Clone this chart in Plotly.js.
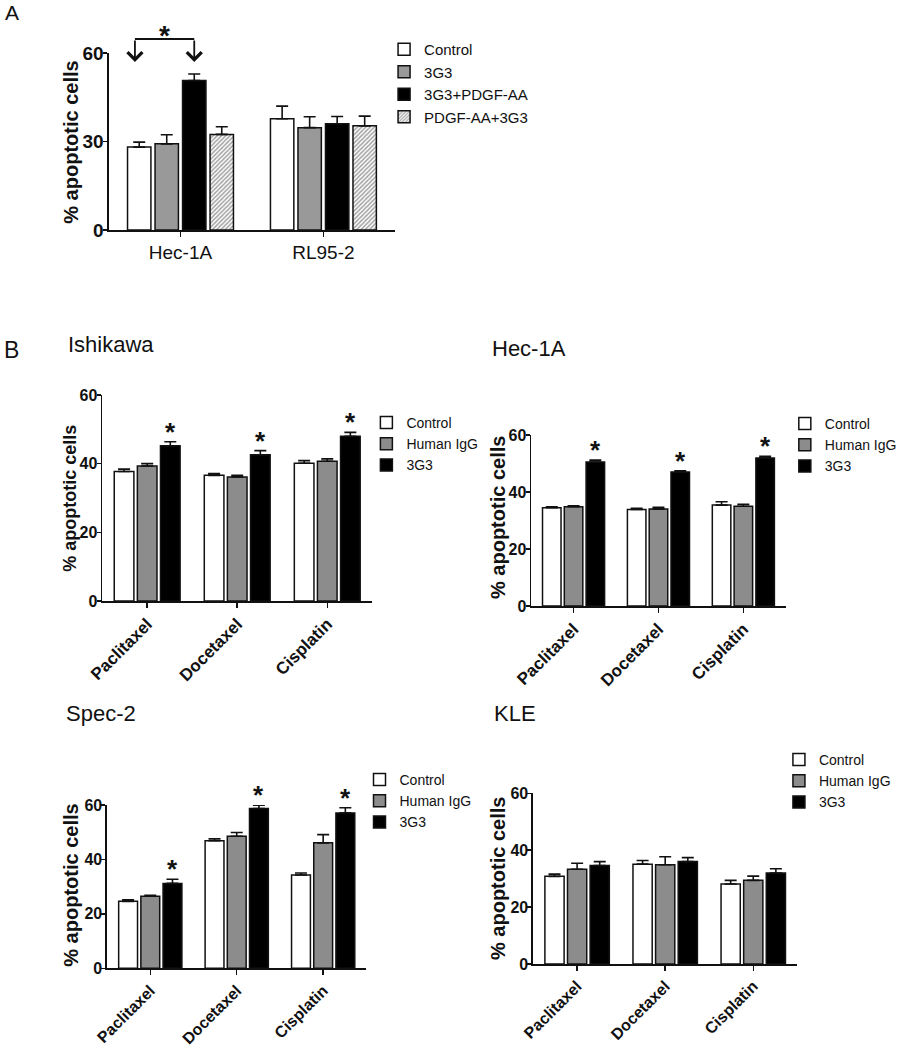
<!DOCTYPE html>
<html><head><meta charset="utf-8">
<script src="https://cdn.plot.ly/plotly-3.0.1.min.js"></script>
<style>html,body{margin:0;padding:0;background:#fff}#chart{width:902px;height:1050px}</style>
</head><body><div id="chart"></div>
<script>
// ---------- Panel A data ----------
const cellLinesA = ['Hec-1A', 'RL95-2'];
const seriesA = ['Control', '3G3', '3G3+PDGF-AA', 'PDGF-AA+3G3'];
const aControl = [28.1, 37.7];
const aControlErr = [1.7, 4.3];
const a3G3 = [29.2, 34.7];
const a3G3Err = [3.1, 3.7];
const a3G3Pdgf = [50.7, 36.0];
const a3G3PdgfErr = [2.2, 2.5];
const aPdgf3G3 = [32.4, 35.3];
const aPdgf3G3Err = [2.6, 3.3];
const aTicks = [0, 30, 60];

// ---------- Panel B data ----------
const drugs = ['Paclitaxel', 'Docetaxel', 'Cisplatin'];
const seriesB = ['Control', 'Human IgG', '3G3'];
const bTicks = [0, 20, 40, 60];

const ishikawaControl = [37.7, 36.6, 40.1];
const ishikawaControlErr = [0.7, 0.5, 0.8];
const ishikawaIgG = [39.3, 36.1, 40.7];
const ishikawaIgGErr = [0.7, 0.5, 0.7];
const ishikawa3G3 = [45.2, 42.6, 48.0];
const ishikawa3G3Err = [1.2, 1.2, 1.1];

const hec1aControl = [34.5, 33.9, 35.4];
const hec1aControlErr = [0.3, 0.4, 1.2];
const hec1aIgG = [34.8, 34.0, 35.0];
const hec1aIgGErr = [0.4, 0.6, 0.7];
const hec1a3G3 = [50.5, 47.0, 51.9];
const hec1a3G3Err = [0.7, 0.4, 0.6];

const spec2Control = [24.6, 46.9, 34.3];
const spec2ControlErr = [0.6, 0.7, 0.7];
const spec2IgG = [26.5, 48.5, 46.1];
const spec2IgGErr = [0.3, 1.4, 3.0];
const spec23G3 = [31.2, 58.7, 57.1];
const spec23G3Err = [1.5, 1.2, 1.9];

const kleControl = [30.8, 35.1, 28.1];
const kleControlErr = [0.8, 1.3, 1.3];
const kleIgG = [33.3, 34.9, 29.4];
const kleIgGErr = [2.1, 2.8, 1.5];
const kle3G3 = [34.6, 36.0, 32.0];
const kle3G3Err = [1.4, 1.4, 1.5];

// ---------- styling / layout helpers ----------
const W = 902, H = 1050;
const fx = p => p / W, fy = p => 1 - p / H;
const FONT = 'Liberation Sans, Arial, Helvetica, sans-serif';
const INK = '#111111';
const GRAY = '#8c8c8c';
const BARGAP = 0.23;

const traces = [];
const annotations = [];
const shapes = [];
const layout = {
  width: W, height: H,
  margin: {l: 0, r: 0, t: 0, b: 0},
  paper_bgcolor: '#ffffff', plot_bgcolor: 'rgba(0,0,0,0)',
  barmode: 'group', bargap: BARGAP, bargroupgap: 0.15,
  font: {family: FONT, color: INK},
  annotations: annotations, shapes: shapes
};

function bar(name, x, y, err, fill, xa, ya, legendId, pattern) {
  const t = {
    type: 'bar', name: name, x: x, y: y,
    xaxis: xa, yaxis: ya, legend: legendId, showlegend: true,
    marker: {color: fill, line: {color: INK, width: 1.5}},
    error_y: {type: 'data', symmetric: false, array: err, arrayminus: err.map(() => 0),
              color: INK, thickness: 1.6, width: 6},
    hoverinfo: 'skip'
  };
  if (pattern) t.marker.pattern = pattern;
  return t;
}

function axisPair(n, xpx, ypx, ticks, xfont, yfont, angle) {
  const xs = n === 1 ? '' : String(n);
  layout['xaxis' + xs] = {
    domain: [fx(xpx[0]), fx(xpx[1])], anchor: 'y' + xs, type: 'category',
    range: [-0.5, (n === 1 ? cellLinesA.length : drugs.length) - 0.5],
    showline: true, linecolor: INK, linewidth: 1.6, mirror: false,
    ticks: 'outside', ticklen: 5, tickwidth: 1.5, tickcolor: INK,
    tickangle: angle, tickfont: xfont, showgrid: false, zeroline: false, fixedrange: true
  };
  layout['yaxis' + xs] = {
    domain: [fy(ypx[1]), fy(ypx[0])], anchor: 'x' + xs, range: [0, 60],
    tickvals: ticks, ticktext: ticks.map(String),
    showline: true, linecolor: INK, linewidth: 1.6,
    ticks: 'outside', ticklen: 4, tickwidth: 1.5, tickcolor: INK,
    ticklabelstandoff: -4,
    tickfont: yfont, showgrid: false, zeroline: false, fixedrange: true
  };
}

function legendAt(id, xpx, ypx, size) {
  layout[id] = {
    x: fx(xpx), y: fy(ypx), xanchor: 'left', yanchor: 'top',
    bgcolor: 'rgba(0,0,0,0)', borderwidth: 0,
    font: {family: FONT, size: size, color: INK},
    itemclick: false, itemdoubleclick: false, tracegroupgap: 0
  };
}

function label(text, xpx, ypx, size, opts) {
  annotations.push(Object.assign({
    text: text, xref: 'paper', yref: 'paper', x: fx(xpx), y: fy(ypx),
    xanchor: 'left', yanchor: 'middle', showarrow: false,
    font: {family: FONT, size: size, color: INK}
  }, opts || {}));
}

// ---------- Panel A ----------
axisPair(1, [111, 402], [53, 230], aTicks,
  {family: FONT, size: 19, color: INK},
  {family: FONT, size: 19, color: INK, weight: 'bold'}, 0);
legendAt('legend', 391, 33, 15);
traces.push(bar(seriesA[0], cellLinesA, aControl, aControlErr, '#ffffff', 'x', 'y', 'legend'));
traces.push(bar(seriesA[1], cellLinesA, a3G3, a3G3Err, '#999999', 'x', 'y', 'legend'));
traces.push(bar(seriesA[2], cellLinesA, a3G3Pdgf, a3G3PdgfErr, '#000000', 'x', 'y', 'legend'));
traces.push(bar(seriesA[3], cellLinesA, aPdgf3G3, aPdgf3G3Err, '#ffffff', 'x', 'y', 'legend',
  {shape: '/', fgcolor: '#444444', bgcolor: '#ffffff', size: 3, solidity: 0.5, fillmode: 'overlay'}));
label('A', 3, 12, 21);
label('% apoptotic cells', 72, 142, 20, {textangle: -90, xanchor: 'center', font: {family: FONT, size: 20, color: INK, weight: 'bold'}});

// significance bracket (Control vs 3G3+PDGF-AA in Hec-1A)
const slotA = (1 - BARGAP) / seriesA.length;
const arrowL = 0 + (0 - 1.5) * slotA - 0.03;
const arrowR = 0 + (2 - 1.5) * slotA;
shapes.push({type: 'line', xref: 'x', yref: 'paper', x0: arrowL, x1: arrowR, y0: fy(39), y1: fy(39),
  line: {color: INK, width: 1.8}});
[arrowL, arrowR].forEach(xv => annotations.push({
  xref: 'x', yref: 'paper', x: xv, y: fy(62), ax: 0, ay: -23, text: '',
  showarrow: true, arrowhead: 4, arrowsize: 1.6, arrowwidth: 1.8, arrowcolor: INK, standoff: 0
}));
annotations.push({xref: 'x', yref: 'paper', x: (arrowL + arrowR) / 2, y: fy(30), text: '*',
  showarrow: false, xanchor: 'center', yanchor: 'middle', yshift: -5,
  font: {family: FONT, size: 28, color: INK, weight: 'bold'}});

// ---------- Panel B ----------
label('B', 2, 350, 23);
const panels = [
  {n: 2, name: 'Ishikawa', x: [104, 379], y: [395, 601], title: [67, 345], yt: [71, 498, 18], xf: 17,
   leg: [373, 407], vals: [ishikawaControl, ishikawaIgG, ishikawa3G3],
   errs: [ishikawaControlErr, ishikawaIgGErr, ishikawa3G3Err], stars: true},
  {n: 3, name: 'Hec-1A', x: [540.7, 800], y: [435, 606], title: [499, 348], yt: [507, 518, 20], xf: 17,
   leg: [799, 408], vals: [hec1aControl, hec1aIgG, hec1a3G3],
   errs: [hec1aControlErr, hec1aIgGErr, hec1a3G3Err], stars: true},
  {n: 4, name: 'Spec-2', x: [109, 373], y: [805, 968.3], title: [65, 713], yt: [72, 885, 20], xf: 16,
   leg: [366, 764], vals: [spec2Control, spec2IgG, spec23G3],
   errs: [spec2ControlErr, spec2IgGErr, spec23G3Err], stars: true},
  {n: 5, name: 'KLE', x: [542.7, 811.7], y: [793.3, 964], title: [500.7, 713], yt: [507, 879, 20], xf: 16,
   leg: [793, 744], vals: [kleControl, kleIgG, kle3G3],
   errs: [kleControlErr, kleIgGErr, kle3G3Err], stars: false}
];
const fillsB = ['#ffffff', GRAY, '#000000'];
const slotB = (1 - BARGAP) / seriesB.length;
panels.forEach(p => {
  const xs = String(p.n);
  const legId = 'legend' + xs;
  axisPair(p.n, p.x, p.y, bTicks,
    {family: FONT, size: p.xf, color: INK, weight: 'bold'},
    {family: FONT, size: 16, color: INK, weight: 'bold'}, -45);
  legendAt(legId, p.leg[0], p.leg[1], 14);
  seriesB.forEach((s, i) => traces.push(bar(s, drugs, p.vals[i], p.errs[i], fillsB[i], 'x' + xs, 'y' + xs, legId)));
  label(p.name, p.title[0], p.title[1], 22);
  label('% apoptotic cells', p.yt[0], p.yt[1], p.yt[2], {textangle: -90, xanchor: 'center',
    font: {family: FONT, size: p.yt[2], color: INK, weight: 'bold'}});
  if (p.stars) {
    drugs.forEach((d, j) => annotations.push({
      xref: 'x' + xs, yref: 'y' + xs, x: j + slotB, y: p.vals[2][j] + p.errs[2][j],
      text: '*', showarrow: false, xanchor: 'center', yanchor: 'bottom', yshift: -7,
      font: {family: FONT, size: 26, color: INK, weight: 'bold'}
    }));
  }
});

Plotly.newPlot('chart', traces, layout, {staticPlot: true, displayModeBar: false});
</script>
</body></html>
